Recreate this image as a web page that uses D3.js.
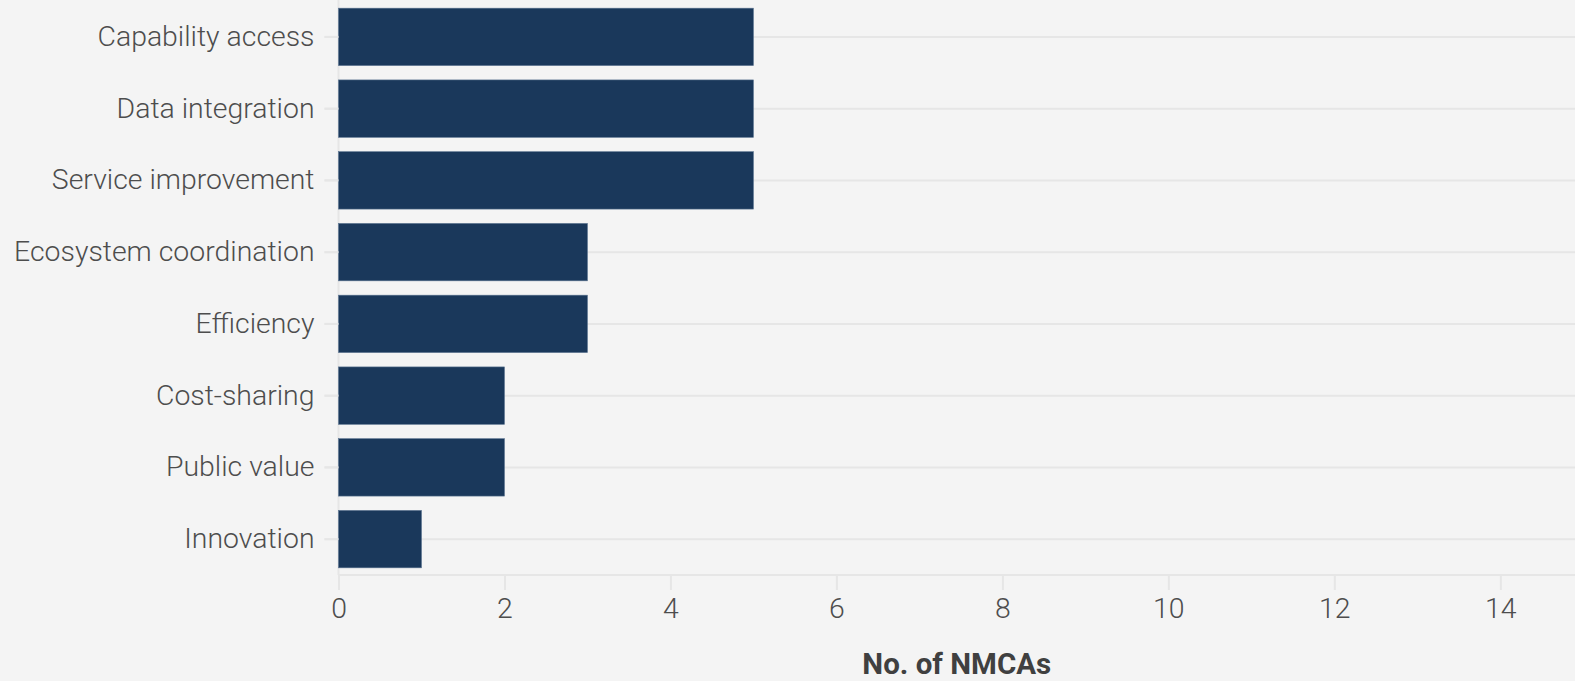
<!DOCTYPE html>
<html><head><meta charset="utf-8">
<script src="https://cdn.jsdelivr.net/npm/d3@7"></script>
<style>
html,body{margin:0;padding:0;background:#f4f4f4;}
svg{display:block;}
text{font-family:Roboto,"Noto Sans",sans-serif;}
</style></head><body>
<svg id="c" width="1575" height="681"></svg>
<script>
const categories = ["Capability access","Data integration","Service improvement","Ecosystem coordination","Efficiency","Cost-sharing","Public value","Innovation"];
const values = [5,5,5,3,3,2,2,1];
const xTicks = [0,2,4,6,8,10,12,14];
const xTitle = "No. of NMCAs";

const W = 1575, H = 681;
const m = {left:338.5, right:0, top:1, bottom:106};
const svg = d3.select("#c");
svg.append("rect").attr("width",W).attr("height",H).attr("fill","#f4f4f4");

const x = d3.scaleLinear().domain([0,14.9]).range([m.left, W]);
const y = d3.scaleBand().domain(categories).range([m.top, H-m.bottom]).paddingInner(0.2).paddingOuter(0.1);

const gridCol = "#e6e6e6";
svg.append("g").selectAll("line").data(categories).join("line")
  .attr("x1", m.left-14).attr("x2", W)
  .attr("y1", d=>y(d)+y.bandwidth()/2).attr("y2", d=>y(d)+y.bandwidth()/2)
  .attr("stroke", gridCol).attr("stroke-width",2);

svg.append("line").attr("x1",m.left).attr("x2",m.left).attr("y1",m.top-1).attr("y2",H-m.bottom)
  .attr("stroke",gridCol).attr("stroke-width",2);

svg.append("g").selectAll("rect").data(categories).join("rect")
  .attr("x", x(0)).attr("y", d=>y(d))
  .attr("width", (d,i)=>x(values[i])-x(0)).attr("height", y.bandwidth())
  .attr("fill","#1a385b").attr("stroke","#5a7390").attr("stroke-width",0.6);

const yAxis = d3.axisLeft(y).tickSize(14).tickPadding(10);
const gy = svg.append("g").attr("transform",`translate(${m.left},0)`).call(yAxis);
gy.select(".domain").remove();
gy.selectAll(".tick line").attr("stroke",gridCol).attr("stroke-width",2);
gy.selectAll(".tick text").attr("fill","#4d4d4d").attr("font-size",28.4).attr("font-weight",300)
  .style("font-family","Roboto, sans-serif");

const xAxis = d3.axisBottom(x).tickValues(xTicks).tickSize(15).tickPadding(8);
const gx = svg.append("g").attr("transform",`translate(0,${H-m.bottom})`).call(xAxis);
gx.select(".domain").attr("stroke",gridCol).attr("stroke-width",2).attr("d",`M${m.left},0H${W}`);
gx.selectAll(".tick line").attr("stroke",gridCol).attr("stroke-width",2);
gx.selectAll(".tick text").attr("fill","#4d4d4d").attr("font-size",28.4).attr("font-weight",300)
  .attr("dy","0.71em").style("font-family","Roboto, sans-serif");

svg.append("text").attr("x",(m.left+W)/2).attr("y",664).attr("dy","0.35em")
  .attr("text-anchor","middle").attr("fill","#404040").attr("font-size",29.5).attr("font-weight",700)
  .text(xTitle);
</script></body></html>
